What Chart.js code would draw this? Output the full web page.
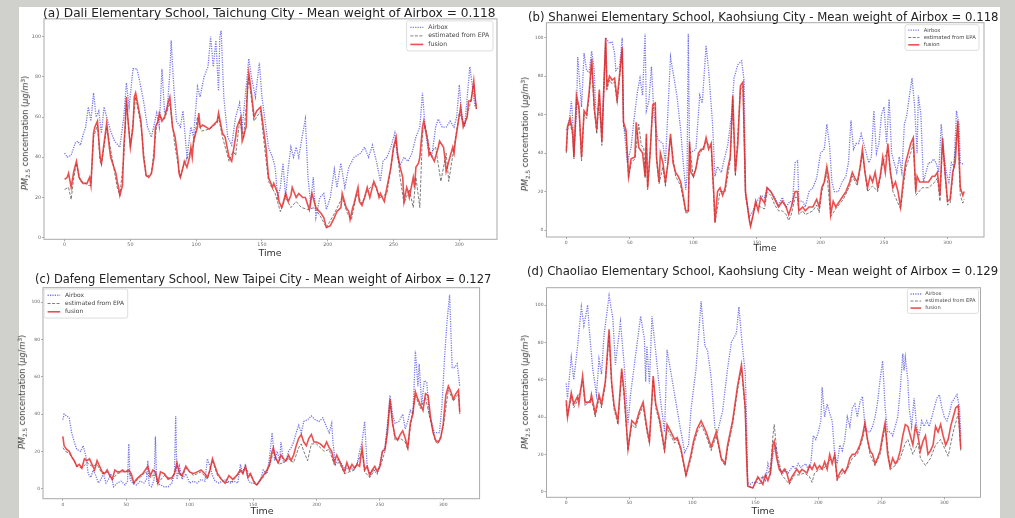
<!DOCTYPE html>
<html lang="en">
<head>
<meta charset="UTF-8" />
<title>Airbox / EPA fusion - PM2.5</title>
<script src="https://cdn.jsdelivr.net/npm/chart.js"></script>
<style>
  html, body { margin: 0; padding: 0; }
  body {
    width: 1015px; height: 518px; position: relative; overflow: hidden;
    background: #d0d0cc; font-family: "DejaVu Sans", sans-serif;
  }
  #sheet { position: absolute; left: 19px; top: 7px; width: 981px; height: 511px; background: #fff; }
  canvas { position: absolute; filter: blur(0.3px); }
  .title { position: absolute; white-space: nowrap; color: #222; line-height: 1; }
  .ylab {
    position: absolute; white-space: nowrap; color: #333; font-size: 8.2px; line-height: 1;
    transform: translate(-50%, -50%) rotate(-90deg);
  }
  .ylab sub { font-size: 0.7em; vertical-align: -0.3em; line-height: 0; }
  .ylab sup { font-size: 0.7em; vertical-align: 0.5em; line-height: 0; }
  .xlab { position: absolute; color: #333; font-size: 9.5px; line-height: 1; transform: translate(-50%, -50%); }
</style>
</head>
<body>
<div id="sheet"></div>
<script>
// ---- data: [time, PM2.5] ----
const airboxA = [[0,42],[2,40],[5,41],[8,47],[10,48],[12,46],[14,51],[16,55],[18,65],[20,58],[22,72],[24,60],[26,63],[28,52],[30,65],[32,60],[35,53],[38,48],[42,45],[45,60],[47,77],[49,65],[52,84],[55,84],[57,78],[60,68],[63,55],[66,50],[70,62],[72,55],[74,84],[76,62],[78,64],[80,82],[81,98],[83,75],[85,58],[88,55],[90,63],[93,40],[96,55],[98,50],[101,75],[103,70],[106,80],[109,85],[111,100],[113,85],[115,98],[117,73],[118,100],[119,103],[121,70],[124,50],[127,46],[130,60],[133,67],[135,55],[138,75],[140,89],[142,80],[145,70],[148,87],[150,70],[152,60],[155,45],[158,40],[160,35],[162,20],[164,25],[166,37],[168,20],[170,35],[172,45],[174,40],[176,45],[178,40],[181,52],[183,59],[185,30],[187,17],[189,30],[191,10],[194,20],[197,22],[199,14],[202,20],[205,34],[207,25],[210,37],[213,25],[216,35],[220,40],[225,42],[228,45],[231,40],[234,46],[237,38],[240,28],[242,38],[245,40],[248,45],[251,52],[253,40],[255,36],[258,40],[261,38],[264,42],[267,50],[270,55],[272,72],[274,55],[276,45],[279,40],[282,55],[284,59],[287,55],[290,55],[293,58],[296,55],[298,60],[300,76],[302,60],[304,55],[306,70],[308,85],[310,75],[312,65]];
const epaA = [[0,24],[3,25],[5,19],[7,30],[9,37],[12,28],[16,27],[18,26],[20,26],[22,50],[25,56],[27,38],[28,36],[32,55],[36,40],[40,25],[42,21],[45,40],[47,68],[50,45],[54,70],[58,56],[62,30],[66,32],[70,56],[72,60],[76,59],[80,67],[84,45],[88,30],[91,37],[95,42],[98,46],[101,60],[104,53],[110,54],[116,57],[117,60],[120,50],[125,38],[128,43],[130,41],[133,58],[136,50],[140,80],[144,58],[149,63],[152,45],[155,28],[160,22],[164,13],[168,20],[172,15],[176,18],[180,15],[185,14],[190,15],[195,10],[199,5],[205,12],[211,20],[215,12],[218,9],[222,22],[226,17],[230,23],[235,27],[240,20],[245,22],[250,44],[252,48],[255,30],[258,17],[262,24],[265,15],[267,30],[270,15],[272,52],[274,56],[278,42],[282,45],[286,28],[290,42],[292,28],[296,45],[300,62],[304,56],[308,66],[311,76],[313,64]];
const fusionA = [[0,29],[2,30],[3,32],[5,25],[7,33],[9,38],[11,30],[14,27],[17,27],[19,30],[20,26],[22,52],[23,55],[25,58],[27,40],[28,37],[32,57],[34,45],[35,40],[39,32],[40,28],[41,25],[42,21],[44,26],[45,45],[46,55],[47,70],[48,60],[50,45],[52,55],[53,70],[54,72],[56,65],[58,58],[59,50],[60,40],[62,31],[64,30],[66,32],[68,40],[69,55],[71,58],[72,62],[74,58],[76,60],[78,65],[79,68],[80,70],[82,55],[84,50],[86,40],[87,32],[88,30],[90,35],[91,38],[93,35],[95,40],[96,45],[97,40],[98,48],[101,55],[102,62],[103,55],[105,56],[110,54],[116,58],[117,62],[120,52],[122,50],[125,40],[127,38],[128,42],[130,50],[131,55],[134,60],[135,48],[136,50],[137,53],[138,55],[139,75],[140,82],[142,72],[144,60],[146,63],[149,65],[151,55],[153,45],[155,30],[158,25],[159,27],[162,22],[163,18],[165,15],[166,17],[168,22],[170,18],[172,21],[173,25],[176,20],[178,22],[181,20],[183,20],[186,14],[188,22],[191,15],[195,12],[197,10],[199,5],[202,6],[205,10],[207,13],[210,15],[211,22],[214,15],[216,13],[217,9],[219,15],[220,17],[223,25],[224,18],[226,16],[228,20],[230,25],[232,20],[235,28],[237,25],[239,20],[240,22],[243,18],[245,25],[248,35],[250,45],[252,50],[253,42],[255,35],[257,30],[258,18],[260,25],[261,23],[262,20],[265,30],[266,25],[267,35],[269,37],[270,40],[272,55],[273,58],[276,48],[277,41],[278,42],[281,38],[284,45],[285,48],[288,45],[289,40],[290,33],[292,38],[295,45],[296,42],[297,48],[301,65],[303,55],[306,60],[307,68],[309,68],[311,78],[312,70],[313,64]];

const airboxB = [[0,52],[2,55],[4,67],[5,58],[6,40],[8,60],[9,90],[10,81],[12,64],[14,92],[16,83],[18,82],[20,93],[22,83],[23,64],[26,62],[28,51],[31,100],[34,97],[36,98],[38,92],[39,83],[42,85],[44,100],[45,56],[48,35],[51,43],[53,56],[56,72],[58,79],[60,70],[62,102],[63,62],[65,67],[67,85],[69,60],[72,47],[76,45],[78,35],[82,90],[85,78],[87,70],[90,52],[92,35],[94,21],[95,28],[96,102],[97,40],[102,42],[105,70],[107,66],[110,96],[112,83],[115,56],[117,28],[119,33],[122,30],[124,36],[127,44],[130,60],[132,79],[135,86],[138,88],[140,77],[141,19],[144,7],[147,10],[150,15],[153,18],[156,17],[158,22],[161,20],[164,17],[167,13],[170,17],[173,12],[176,15],[178,14],[180,35],[182,36],[183,15],[186,15],[188,12],[191,20],[194,22],[197,27],[200,40],[203,42],[205,55],[207,45],[209,25],[211,20],[214,20],[217,25],[220,28],[222,35],[224,57],[226,42],[228,45],[230,45],[232,50],[234,45],[236,40],[238,35],[240,38],[242,62],[244,40],[246,45],[248,60],[250,64],[252,45],[254,68],[256,40],[258,35],[260,30],[262,38],[264,30],[266,55],[268,60],[270,70],[272,79],[274,65],[276,40],[277,70],[279,60],[281,25],[283,30],[285,35],[287,35],[289,37],[291,35],[293,30],[295,55],[297,40],[299,30],[301,25],[303,35],[305,33],[307,62],[309,55],[310,35],[313,34]];
const epaB = [[0,40],[1,52],[3,56],[5,49],[6,37],[8,68],[10,62],[12,36],[14,60],[16,58],[18,70],[20,86],[22,62],[24,50],[26,71],[28,44],[31,97],[32,73],[34,78],[36,76],[38,77],[40,66],[44,93],[45,54],[47,50],[49,27],[51,35],[54,37],[57,55],[59,44],[61,43],[62,27],[63,48],[64,21],[68,63],[70,64],[71,36],[73,24],[76,33],[78,23],[82,48],[86,28],[90,23],[94,9],[96,9],[97,44],[100,27],[104,38],[110,46],[114,43],[117,4],[121,20],[125,20],[129,36],[131,68],[133,28],[137,73],[139,75],[141,18],[145,2],[149,13],[153,12],[156,11],[158,20],[161,18],[164,13],[167,10],[170,10],[173,8],[175,5],[177,8],[180,17],[182,17],[183,8],[186,10],[188,8],[191,9],[194,10],[197,13],[199,9],[201,20],[205,30],[208,7],[212,11],[218,16],[223,23],[225,28],[229,23],[233,40],[237,20],[241,23],[245,20],[249,35],[253,42],[257,20],[263,11],[267,32],[271,40],[273,45],[275,18],[280,22],[285,22],[290,25],[292,27],[294,15],[296,45],[300,13],[302,14],[304,27],[308,55],[310,18],[312,14],[313,16]];
const fusionB = [[0,41],[1,54],[3,58],[5,51],[6,38],[8,70],[10,64],[12,38],[14,62],[16,60],[18,72],[20,89],[22,64],[24,52],[26,73],[28,46],[31,100],[32,75],[34,80],[36,78],[38,79],[40,68],[44,95],[45,56],[47,52],[49,28],[51,37],[54,38],[55,56],[57,43],[60,40],[62,28],[63,50],[64,22],[66,40],[68,65],[70,66],[71,38],[73,25],[74,40],[76,35],[78,25],[80,35],[82,50],[84,35],[86,30],[88,28],[90,25],[92,18],[94,10],[96,10],[97,46],[98,30],[100,28],[102,32],[104,40],[106,42],[108,42],[110,48],[112,42],[114,45],[116,20],[117,4],[119,20],[121,22],[123,18],[125,22],[127,32],[129,38],[131,70],[133,30],[135,45],[137,75],[139,77],[141,20],[142,15],[144,5],[145,2],[147,8],[149,15],[151,10],[153,17],[156,14],[158,22],[161,20],[164,16],[167,12],[170,15],[173,12],[175,8],[177,12],[180,20],[182,20],[183,10],[186,12],[188,10],[191,12],[194,12],[197,16],[199,12],[201,22],[203,25],[205,33],[207,25],[208,8],[210,15],[212,12],[215,15],[218,18],[220,20],[223,25],[225,30],[227,27],[229,25],[231,32],[233,42],[235,30],[237,22],[239,28],[241,25],[243,30],[245,22],[247,28],[249,38],[251,30],[253,45],[255,30],[257,22],[259,25],[261,20],[263,12],[265,25],[267,35],[269,40],[271,45],[273,48],[275,20],[276,28],[278,25],[280,25],[282,25],[285,25],[288,28],[290,28],[292,30],[294,18],[296,48],[298,30],[300,15],[302,16],[304,30],[306,35],[308,57],[310,22],[312,18],[313,20]];

const airboxC = [[0,37],[1,40],[3,39],[5,38],[7,30],[9,25],[11,21],[14,20],[16,23],[18,18],[20,8],[22,6],[24,10],[26,7],[28,3],[30,5],[32,8],[34,3],[36,5],[38,8],[40,1],[43,3],[46,4],[49,2],[51,4],[52,24],[53,5],[55,3],[58,2],[61,4],[64,3],[66,5],[67,15],[68,2],[70,1],[72,5],[73,28],[74,3],[77,2],[80,1],[83,1],[86,3],[88,8],[89,39],[90,5],[92,12],[94,5],[97,8],[100,3],[103,4],[106,3],[109,5],[112,4],[114,16],[116,12],[118,7],[120,4],[123,3],[126,4],[129,5],[132,3],[135,4],[138,3],[140,13],[142,8],[144,13],[146,5],[148,3],[150,3],[153,2],[156,5],[158,10],[161,8],[163,17],[165,30],[167,15],[169,20],[171,15],[172,25],[174,14],[176,15],[178,20],[180,22],[182,25],[184,30],[186,34],[188,30],[190,36],[193,37],[196,39],[199,37],[202,36],[205,38],[208,33],[210,30],[212,35],[213,25],[215,13],[217,16],[220,13],[223,10],[226,12],[229,10],[232,13],[234,20],[236,25],[238,36],[240,12],[242,8],[245,10],[248,8],[250,13],[252,20],[254,22],[256,35],[258,50],[260,40],[262,35],[265,36],[268,40],[270,32],[272,36],[274,42],[276,40],[277,55],[278,74],[280,55],[281,67],[283,45],[285,58],[287,57],[289,40],[291,35],[293,30],[295,30],[297,30],[299,45],[301,70],[303,90],[305,104],[307,65],[309,65],[311,67],[313,55]];
const epaC = [[0,22],[2,20],[5,19],[8,16],[11,12],[15,11],[19,14],[23,12],[27,13],[31,8],[35,9],[39,5],[43,8],[47,9],[52,9],[56,3],[61,6],[65,9],[69,6],[73,8],[75,3],[80,7],[86,5],[90,12],[94,6],[97,11],[103,7],[109,9],[114,5],[118,15],[122,7],[128,3],[134,4],[140,9],[144,11],[148,7],[153,2],[158,6],[163,12],[166,20],[170,13],[174,14],[178,16],[182,14],[186,22],[188,24],[190,20],[193,15],[196,24],[200,24],[206,20],[210,21],[214,13],[218,14],[222,8],[226,9],[230,10],[236,20],[238,9],[242,6],[246,10],[250,11],[254,20],[258,46],[262,26],[266,27],[270,25],[272,21],[274,33],[278,50],[282,43],[286,49],[290,36],[294,25],[296,24],[300,33],[304,53],[308,47],[312,51],[313,40]];
const fusionC = [[0,28],[1,23],[3,21],[5,20],[7,17],[9,15],[11,12],[13,13],[15,11],[17,16],[19,15],[21,16],[23,13],[25,10],[27,15],[29,12],[31,9],[33,8],[35,10],[37,7],[39,5],[41,10],[43,9],[45,9],[47,10],[49,9],[52,10],[54,8],[56,3],[58,5],[61,7],[63,8],[65,10],[67,12],[69,7],[71,10],[73,9],[75,3],[77,9],[80,8],[83,5],[86,6],[88,8],[90,14],[92,8],[94,7],[97,12],[100,9],[103,8],[106,9],[109,10],[112,8],[114,6],[116,10],[118,16],[120,12],[122,8],[125,5],[128,3],[131,7],[134,5],[137,7],[140,10],[142,8],[144,12],[146,6],[148,8],[151,3],[153,2],[156,5],[158,7],[161,10],[163,13],[165,20],[166,22],[168,16],[170,14],[172,18],[174,16],[176,15],[178,18],[180,15],[182,18],[184,23],[186,27],[188,29],[190,25],[192,23],[194,27],[196,29],[198,25],[200,25],[203,24],[206,22],[208,25],[210,22],[212,20],[214,14],[216,18],[218,15],[220,12],[222,9],[224,14],[226,10],[228,13],[230,11],[232,13],[234,12],[236,22],[238,10],[240,12],[242,7],[244,10],[246,12],[248,9],[250,12],[252,20],[254,21],[256,30],[258,48],[260,35],[262,28],[264,26],[266,29],[268,31],[270,27],[272,22],[274,35],[276,40],[278,52],[280,48],[282,45],[284,42],[286,51],[288,50],[290,38],[292,30],[294,26],[296,25],[298,27],[300,35],[302,50],[304,55],[306,52],[308,48],[310,51],[312,53],[313,41]];

const airboxD = [[0,58],[1,50],[4,72],[6,60],[9,78],[10,85],[12,99],[14,89],[17,100],[18,89],[21,66],[24,52],[26,71],[28,63],[30,84],[34,105],[37,93],[39,68],[43,91],[46,68],[49,36],[51,52],[55,73],[59,94],[62,82],[63,59],[64,78],[66,58],[68,94],[71,75],[75,48],[78,32],[80,76],[83,64],[86,52],[90,36],[94,21],[97,25],[99,44],[103,66],[107,102],[110,78],[112,76],[115,61],[118,34],[120,32],[124,43],[128,66],[131,80],[135,85],[137,99],[140,76],[142,64],[143,40],[144,5],[146,4],[148,5],[152,5],[154,4],[156,8],[158,6],[160,15],[162,10],[164,20],[166,25],[168,15],[170,12],[172,10],[174,12],[176,10],[178,12],[180,14],[182,12],[184,15],[186,13],[188,14],[190,15],[192,12],[194,15],[196,30],[198,28],[200,32],[202,38],[203,56],[205,40],[207,47],[209,42],[211,38],[213,20],[215,15],[217,25],[219,22],[221,28],[223,40],[225,35],[227,45],[229,47],[231,40],[233,48],[235,51],[237,35],[239,32],[241,32],[243,35],[245,40],[247,48],[249,60],[251,70],[253,45],[255,32],[257,32],[259,30],[261,35],[263,40],[265,55],[267,74],[268,65],[269,72],[271,60],[272,45],[274,35],[276,50],[278,35],[280,30],[282,38],[284,35],[286,38],[288,35],[290,40],[292,45],[294,50],[296,52],[298,45],[300,40],[302,38],[304,42],[306,48],[308,50],[310,52],[312,45],[313,30]];
const epaD = [[0,47],[1,40],[4,51],[6,45],[9,49],[13,59],[15,46],[20,50],[23,40],[26,50],[28,45],[31,57],[34,84],[36,57],[38,44],[41,36],[44,64],[46,50],[49,22],[52,36],[55,34],[58,41],[61,46],[64,32],[66,26],[69,60],[71,45],[74,37],[78,21],[80,34],[83,30],[86,26],[88,28],[91,22],[95,8],[99,18],[101,25],[104,32],[107,36],[111,30],[115,22],[119,30],[123,17],[126,14],[128,23],[132,36],[136,55],[139,66],[141,51],[142,43],[144,3],[148,2],[152,7],[158,8],[162,12],[164,30],[165,36],[167,22],[171,9],[177,4],[181,9],[185,9],[189,10],[193,8],[195,5],[197,10],[201,12],[205,13],[209,17],[213,18],[215,6],[219,10],[223,12],[227,18],[231,20],[235,28],[237,35],[241,20],[245,14],[249,20],[253,35],[257,12],[261,14],[265,18],[269,26],[271,28],[275,20],[279,26],[281,18],[285,14],[289,18],[293,25],[297,28],[301,22],[303,19],[307,32],[311,42],[313,22]];
const fusionD = [[0,49],[1,40],[4,53],[6,47],[9,51],[10,47],[13,62],[15,48],[19,48],[20,52],[23,42],[26,52],[28,47],[31,59],[34,87],[36,59],[38,46],[41,38],[44,66],[46,53],[49,23],[52,38],[55,36],[58,43],[61,48],[64,34],[66,27],[69,62],[71,47],[74,39],[78,23],[80,36],[83,32],[86,28],[88,29],[91,23],[95,9],[99,20],[101,27],[104,34],[107,38],[111,32],[115,24],[119,32],[123,18],[126,15],[128,25],[132,38],[136,57],[139,68],[141,53],[142,45],[143,20],[144,3],[148,2],[152,8],[156,4],[158,9],[160,6],[162,10],[164,25],[165,27],[167,18],[169,12],[171,10],[173,12],[175,10],[177,5],[179,8],[181,10],[183,12],[185,10],[187,12],[189,11],[191,10],[193,14],[195,12],[197,15],[199,12],[201,14],[203,12],[205,16],[207,12],[209,20],[211,15],[213,20],[215,7],[217,10],[219,12],[221,10],[223,13],[225,18],[227,20],[229,20],[231,22],[233,25],[235,30],[237,37],[239,28],[241,22],[243,20],[245,15],[247,18],[249,22],[251,30],[253,37],[255,20],[257,13],[259,18],[261,15],[263,17],[265,22],[267,30],[269,36],[271,35],[273,30],[275,25],[277,35],[279,30],[281,22],[283,27],[285,30],[287,20],[289,22],[291,25],[293,35],[295,32],[297,36],[299,30],[301,25],[303,28],[305,35],[307,40],[309,45],[311,46],[313,23]];

const seriesNames = ['Airbox', 'estimated from EPA', 'fusion'];
const panelTitles = [
  '(a) Dali Elementary School, Taichung City - Mean weight of Airbox = 0.118',
  '(b) Shanwei Elementary School, Kaohsiung City - Mean weight of Airbox = 0.118',
  '(c) Dafeng Elementary School, New Taipei City - Mean weight of Airbox = 0.127',
  '(d) Chaoliao Elementary School, Kaohsiung City - Mean weight of Airbox = 0.129'
];
const panelSeries = [
  [airboxA, epaA, fusionA],
  [airboxB, epaB, fusionB],
  [airboxC, epaC, fusionC],
  [airboxD, epaD, fusionD]
];
const xLabel = 'Time';
const xRange = [-15.65, 328.65];

// ---- layout (pixel positions of each panel on the page) ----
const layouts = [
  { area: { L: 44, R: 497, T: 18, B: 239.3 }, yRange: [-0.8, 108.8], title: { x1: 43, x2: 496, base: 17.3 },
    ylab: { x: 25, y: 133 }, xlab: { x: 270, y: 253 }, legend: { side: 'right', dx: 4, dy: 2, f: 6.2 }, tick: 4.8 },
  { area: { L: 546.4, R: 984, T: 22.7, B: 237 }, yRange: [-3.6, 107.8], title: { x1: 528, x2: 999, base: 21.7 },
    ylab: { x: 525, y: 134 }, xlab: { x: 765, y: 248.3 }, legend: { side: 'right', dx: 5, dy: 2, f: 5.3 }, tick: 4.5 },
  { area: { L: 43, R: 479.6, T: 287.7, B: 498.7 }, yRange: [-5.4, 107.8], title: { x1: 35, x2: 492, base: 284 },
    ylab: { x: 22, y: 392 }, xlab: { x: 262, y: 511 }, legend: { side: 'left', dx: 1, dy: 1.3, f: 6.0 }, tick: 4.5 },
  { area: { L: 546.5, R: 980.5, T: 287.3, B: 497.3 }, yRange: [-3, 109.3], title: { x1: 527, x2: 999, base: 276.3 },
    ylab: { x: 525, y: 392 }, xlab: { x: 763, y: 511 }, legend: { side: 'right', dx: 2, dy: 1, f: 5.1 }, tick: 4.5 }
];

const styles = [
  { borderColor: 'rgba(60,60,225,0.7)', borderWidth: 1.3, borderDash: [1.2, 1.2], order: 2 },
  { borderColor: 'rgba(40,40,40,0.6)', borderWidth: 1, borderDash: [3, 1.5], order: 1 },
  { borderColor: 'rgba(232,40,40,0.82)', borderWidth: 1.6, borderDash: [], order: 0 }
];

// frame on all four sides + legend inside the axes (matplotlib look)
const panelDecor = {
  id: 'panelDecor',
  afterDatasetsDraw(chart, args, opts) {
    const { ctx, chartArea: a } = chart;
    ctx.save();
    ctx.strokeStyle = '#a9a9a9';
    ctx.lineWidth = 1;
    ctx.strokeRect(a.left, a.top, a.right - a.left, a.bottom - a.top);

    const f = opts.f;
    ctx.font = `${f}px "DejaVu Sans"`;
    const items = chart.data.datasets;
    const textW = Math.max(...items.map((d) => ctx.measureText(d.label).width));
    const padX = f * 0.6, padY = f * 0.35, lineW = f * 2.1, gap = f * 0.8, rowH = f * 1.38;
    const w = padX + lineW + gap + textW + padX;
    const h = padY * 2 + rowH * items.length;
    const x0 = opts.side === 'left' ? a.left + opts.dx : a.right - opts.dx - w;
    const y0 = a.top + opts.dy;
    ctx.fillStyle = 'rgba(255,255,255,0.8)';
    ctx.strokeStyle = '#dddddd';
    ctx.beginPath();
    ctx.roundRect(x0, y0, w, h, 2);
    ctx.fill();
    ctx.stroke();
    items.forEach((d, i) => {
      const cy = y0 + padY + rowH * (i + 0.5);
      ctx.strokeStyle = d.borderColor;
      ctx.lineWidth = d.borderWidth;
      ctx.setLineDash(d.borderDash);
      ctx.beginPath();
      ctx.moveTo(x0 + padX, cy);
      ctx.lineTo(x0 + padX + lineW, cy);
      ctx.stroke();
      ctx.setLineDash([]);
      ctx.fillStyle = '#444';
      ctx.textBaseline = 'middle';
      ctx.fillText(d.label, x0 + padX + lineW + gap, cy);
    });
    ctx.restore();
  }
};

layouts.forEach((lay, i) => {
  const { L, R, T, B } = lay.area;
  const cx = Math.floor(L - 26), cy = Math.floor(T - 3);
  const cw = Math.ceil(R + 3 - cx), ch = Math.ceil(B + 10 - cy);
  const yW = L - cx, padTop = T - cy, padRight = cx + cw - R, xH = cy + ch - B;

  const canvas = document.createElement('canvas');
  canvas.width = cw;
  canvas.height = ch;
  canvas.style.left = cx + 'px';
  canvas.style.top = cy + 'px';
  document.body.appendChild(canvas);

  const tickFont = { family: 'DejaVu Sans', size: lay.tick };
  new Chart(canvas, {
    type: 'line',
    data: {
      datasets: panelSeries[i].map((arr, k) => ({
        label: seriesNames[k],
        data: arr.map(([x, y]) => ({ x, y })),
        pointRadius: 0,
        tension: 0,
        fill: false,
        ...styles[k]
      }))
    },
    options: {
      responsive: false,
      animation: false,
      layout: { padding: { top: padTop, right: padRight, left: 0, bottom: 0 } },
      plugins: { legend: { display: false }, tooltip: { enabled: false }, panelDecor: lay.legend },
      scales: {
        x: {
          type: 'linear', min: xRange[0], max: xRange[1],
          ticks: { stepSize: 50, includeBounds: false, maxRotation: 0, autoSkip: false, padding: 1, color: '#666', font: tickFont },
          grid: { drawOnChartArea: false, tickLength: 2, color: '#aaa' },
          border: { display: false },
          afterFit: (s) => { s.height = xH; }
        },
        y: {
          min: lay.yRange[0], max: lay.yRange[1],
          ticks: { stepSize: 20, includeBounds: false, padding: 1, color: '#666', font: tickFont },
          grid: { drawOnChartArea: false, tickLength: 2, color: '#aaa' },
          border: { display: false },
          afterFit: (s) => { s.width = yW; }
        }
      }
    },
    plugins: [panelDecor]
  });

  // title, fitted to the width it spans in the figure
  const t = document.createElement('div');
  t.className = 'title';
  t.textContent = panelTitles[i];
  t.style.fontSize = '14px';
  document.body.appendChild(t);
  const fs = 14 * (lay.title.x2 - lay.title.x1) / t.getBoundingClientRect().width;
  t.style.fontSize = fs + 'px';
  t.style.left = lay.title.x1 + 'px';
  t.style.top = (lay.title.base - 0.846 * fs) + 'px';

  const yl = document.createElement('div');
  yl.className = 'ylab';
  yl.innerHTML = '<i>PM</i><sub>2.5</sub> concentration (<i>μg</i>/<i>m</i><sup>3</sup>)';
  yl.style.left = lay.ylab.x + 'px';
  yl.style.top = lay.ylab.y + 'px';
  document.body.appendChild(yl);

  const xl = document.createElement('div');
  xl.className = 'xlab';
  xl.textContent = xLabel;
  xl.style.left = lay.xlab.x + 'px';
  xl.style.top = lay.xlab.y + 'px';
  document.body.appendChild(xl);
});
</script>
</body>
</html>
